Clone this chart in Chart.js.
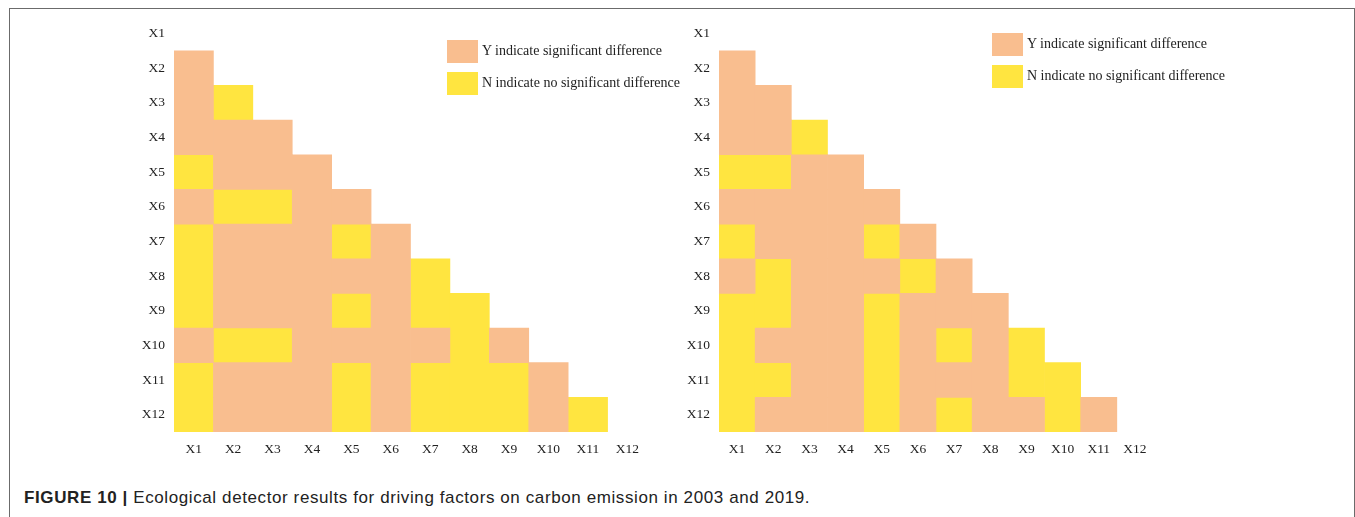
<!DOCTYPE html>
<html>
<head>
<meta charset="utf-8">
<script src="https://cdn.jsdelivr.net/npm/chart.js@4.4.0/dist/chart.umd.min.js"></script>
<style>
  body { margin: 0; background: #fff; }
  #page { position: relative; width: 1355px; height: 517px; overflow: hidden; }
  #frame { position: absolute; left: 9px; top: 8px; width: 1346px; height: 520px;
           border: 1.5px solid #6b6b6b; border-bottom: none; box-sizing: border-box; }
  .wrap { position: absolute; }
  .leg { position: absolute; font-family: "Liberation Serif", serif; font-size: 14px; color: #222; }
  .leg div { position: relative; height: 32px; }
  .leg span.box { position: absolute; left: 0; width: 31px; height: 23px; }
  .leg span.txt { position: absolute; left: 35px; top: 3px; white-space: nowrap; }
  #caption { position: absolute; left: 24px; top: 488px; font-family: "Liberation Sans", Arial, sans-serif;
             font-size: 17px; letter-spacing: 0.6px; color: #222; white-space: nowrap; }
</style>
</head>
<body>
<div id="page">
  <div id="frame"></div>
  <div class="wrap" style="left:100px;top:-1px;width:560px;height:461px;"><canvas id="chart2003"></canvas></div>
  <div class="wrap" style="left:640px;top:-1px;width:540px;height:461px;"><canvas id="chart2019"></canvas></div>
  <div class="leg" style="left:447px;top:40px;">
    <div><span class="box" style="background:#F9BE8F"></span><span class="txt">Y indicate significant difference</span></div>
    <div><span class="box" style="background:#FFE540"></span><span class="txt">N indicate no significant difference</span></div>
  </div>
  <div class="leg" style="left:992px;top:33px;">
    <div><span class="box" style="background:#F9BE8F"></span><span class="txt">Y indicate significant difference</span></div>
    <div><span class="box" style="background:#FFE540"></span><span class="txt">N indicate no significant difference</span></div>
  </div>
  <div id="caption"><b>FIGURE 10 |</b> Ecological detector results for driving factors on carbon emission in 2003 and 2019.</div>
</div>
<script>
// factors
var factors = ['X1', 'X2', 'X3', 'X4', 'X5', 'X6', 'X7', 'X8', 'X9', 'X10', 'X11', 'X12'];

// lower triangle, row Xk holds columns X1..X(k-1); Y = significant, N = not
var sig2003 = [
  'Y',
  'YN',
  'YYY',
  'NYYY',
  'YNNYY',
  'NYYYNY',
  'NYYYYYN',
  'NYYYNYNN',
  'YNNYYYYNY',
  'NYYYNYNNNY',
  'NYYYNYNNNYN'
];

var sig2019 = [
  'Y',
  'YY',
  'YYN',
  'NNYY',
  'YYYYY',
  'NYYYNY',
  'YNYYYNY',
  'NNYYNYYY',
  'NYYYNYNYN',
  'NNYYNYYYNN',
  'NYYYNYNYYNY'
];

var colY = '#F9BE8F';
var colN = '#FFE540';

function buildData(rows) {
  var yes = [], no = [];
  for (var r = 0; r < rows.length; r++) {
    for (var c = 0; c < rows[r].length; c++) {
      var pt = { x: factors[c], y: [r + 1, r + 2] };
      if (rows[r][c] == 'Y') yes.push(pt); else no.push(pt);
    }
  }
  return [yes, no];
}

function makeChart(id, rows, yWidth, padRight, labelPad) {
  var d = buildData(rows);
  var ctx = document.getElementById(id).getContext('2d');
  return new Chart(ctx, {
    type: 'bar',
    data: {
      labels: factors,
      datasets: [{
        label: 'Y',
        data: d[0],
        backgroundColor: colY,
        borderWidth: 0
      },
      {
        label: 'N',
        data: d[1],
        backgroundColor: colN,
        borderWidth: 0
      }]
    },
    options: {
      responsive: true,
      maintainAspectRatio: false,
      animation: false,
      grouped: false,
      categoryPercentage: 1,
      barPercentage: 1,
      layout: { padding: { top: 5, right: padRight, bottom: 0, left: 0 } },
      plugins: { legend: { display: false }, tooltip: { enabled: true } },
      scales: {
        x: {
          type: 'category',
          offset: true,
          grid: { display: false, drawTicks: false },
          border: { display: false },
          ticks: { padding: 9, color: '#222', font: { family: 'Liberation Serif', size: 13.5 }, maxRotation: 0, autoSkip: false },
          afterFit: function (s) { s.height = 28; }
        },
        y: {
          type: 'linear',
          min: 0,
          max: 12,
          reverse: true,
          grid: { display: false, drawTicks: false },
          border: { display: false },
          afterBuildTicks: function (s) {
            s.ticks = factors.map(function (f, i) { return { value: i + 0.5 }; });
          },
          ticks: {
            padding: labelPad,
            color: '#222',
            font: { family: 'Liberation Serif', size: 13.5 },
            callback: function (v, i) { return factors[i]; }
          },
          afterFit: function (s) { s.width = yWidth; }
        }
      }
    }
  });
}

makeChart('chart2003', sig2003, 74, 13, 9);
makeChart('chart2019', sig2019, 79, 27, 9);
</script>
</body>
</html>
